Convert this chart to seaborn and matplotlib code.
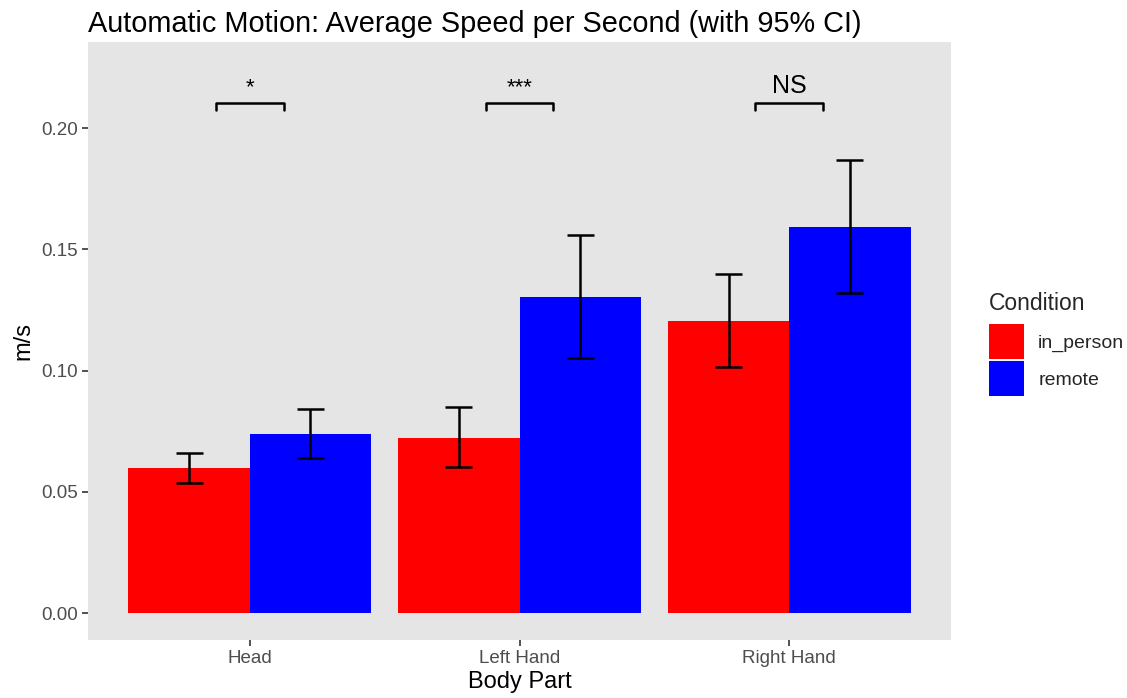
import matplotlib
matplotlib.use("Agg")
import matplotlib.pyplot as plt
import seaborn as sns
import pandas as pd

body_parts = ["Head", "Left Hand", "Right Hand"]
conditions = ["in_person", "remote"]
in_person_mean = [0.0598, 0.0722, 0.1204]
in_person_lo = [0.0536, 0.0602, 0.1014]
in_person_hi = [0.0660, 0.0849, 0.1398]
remote_mean = [0.0738, 0.1303, 0.1592]
remote_lo = [0.0639, 0.1052, 0.1320]
remote_hi = [0.0841, 0.1559, 0.1868]
sig_labels = ["*", "***", "NS"]
sig_y = 0.2103
colors = {"in_person": "#FF0000", "remote": "#0000FF"}

df = pd.DataFrame({
    "Body Part": body_parts * 2,
    "Condition": ["in_person"] * 3 + ["remote"] * 3,
    "mean": in_person_mean + remote_mean,
    "lo": in_person_lo + remote_lo,
    "hi": in_person_hi + remote_hi,
})

sns.set_theme(style="white")
plt.rcParams["font.family"] = ["Liberation Sans", "DejaVu Sans"]

fig = plt.figure(figsize=(11.27, 6.98), dpi=100)
ax = fig.add_axes([88 / 1127, 58 / 698, 863 / 1127, 598 / 698])
ax.set_facecolor("#E5E5E5")

sns.barplot(data=df, x="Body Part", y="mean", hue="Condition", order=body_parts,
            hue_order=conditions, palette=colors, width=0.9, gap=0, errorbar=None,
            saturation=1, linewidth=0, ax=ax)

for cond, cont in zip(conditions, ax.containers):
    sub = df[df["Condition"] == cond].set_index("Body Part").loc[body_parts]
    for bar, lo, hi in zip(cont, sub["lo"], sub["hi"]):
        xc = bar.get_x() + bar.get_width() / 2
        ax.plot([xc, xc], [lo, hi], color="black", lw=1.8, solid_capstyle="butt", zorder=3)
        for yv in (lo, hi):
            ax.plot([xc - 0.05, xc + 0.05], [yv, yv], color="black", lw=1.8,
                    solid_capstyle="butt", zorder=3)

for i, lab in enumerate(sig_labels):
    x0, x1 = i - 0.125, i + 0.125
    ax.plot([x0, x0, x1, x1], [sig_y - 0.003, sig_y, sig_y, sig_y - 0.003],
            color="black", lw=1.8, zorder=3)
    fs = 18 if lab == "NS" else 16
    ax.text(i, sig_y + 0.0022, lab, ha="center", va="bottom", fontsize=fs, color="black")

ax.set_xlim(-0.6, 2.6)
ax.set_ylim(-0.0111, 0.2355)
ax.set_yticks([0.0, 0.05, 0.10, 0.15, 0.20])
ax.set_yticklabels(["0.00", "0.05", "0.10", "0.15", "0.20"])
for s in ax.spines.values():
    s.set_visible(False)
ax.tick_params(axis="both", which="both", length=4, width=1.2, color="#333333",
               labelcolor="#4D4D4D", labelsize=13.5, pad=3, bottom=True, left=True)
ax.set_xlabel("Body Part", fontsize=17, color="black", labelpad=3)
ax.set_ylabel("m/s", fontsize=17, color="black", labelpad=5)
ax.set_title("Automatic Motion: Average Speed per Second (with 95% CI)",
             fontsize=20.8, loc="left", color="black", pad=7)

sns.move_legend(ax, loc="center left", bbox_to_anchor=(1.03, 0.495), frameon=False,
                title="Condition", fontsize=14, title_fontsize=16.5,
                handlelength=1.8, handleheight=2.4, labelspacing=0.1,
                handletextpad=0.75, alignment="left", borderaxespad=0.2)
leg = ax.get_legend()
leg._legend_box.sep = 7

fig.savefig("out.png", dpi=100)
